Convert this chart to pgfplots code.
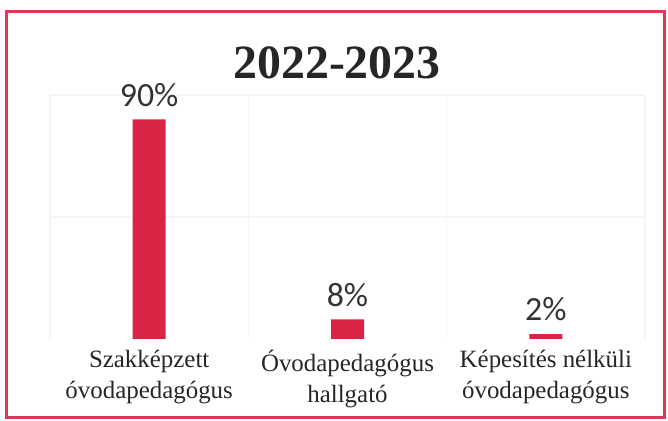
\documentclass[border=0pt]{standalone}
\usepackage{fontspec}
\setmainfont{Liberation Serif}
\newfontfamily\valfont{Carlito}
\usepackage{pgfplots}
\pgfplotsset{compat=1.18}
\definecolor{barred}{RGB}{218,36,70}
\definecolor{borderred}{RGB}{222,56,88}
\begin{document}
\begin{tikzpicture}
\begin{axis}[name=ax, scale only axis, width=297.5bp, height=122bp,
  xmin=-0.5, xmax=2.5, ymin=0, ymax=100,
  axis line style={draw=none},
  /pgf/number format/assume math mode=true,
  xtick={0,1,2},
  xticklabels={{Szakképzett\\óvodapedagógus},{Óvodapedagógus\\hallgató},{Képesítés nélküli\\óvodapedagógus}},
  major tick length=0pt, minor tick length=0pt,
  minor xtick={-0.5,0.5,1.5,2.5}, xminorgrids,
  ytick={50,100}, yticklabels={}, ymajorgrids,
  grid style={black!4, line width=0.6pt},
  minor grid style={black!4, line width=0.6pt},
  ybar, bar width=16.5bp,
  nodes near coords={\pgfmathprintnumber{\pgfplotspointmeta}\%},
  nodes near coords style={font=\valfont\fontsize{17}{20}\selectfont, text=black!80, yshift=3bp},
  xticklabel style={align=center, font=\fontsize{12.5}{15.5}\selectfont, text=black!85, yshift=-2bp},
]
\addplot[fill=barred, draw=none] coordinates {(0,90) (1,8) (2,2)};
\end{axis}
\node[font=\bfseries\fontsize{24}{28}\selectfont, text=black!85] at ([xshift=143.5bp,yshift=16bp]ax.north west) {2022-2023};
\draw[borderred, line width=1.5bp] ([xshift=-21.5bp,yshift=-39bp]ax.south west) rectangle ([xshift=9.5bp,yshift=41.5bp]ax.north east);
\pgfresetboundingbox
\path ([xshift=-25bp,yshift=-41bp]ax.south west) rectangle ([xshift=11.5bp,yshift=47.5bp]ax.north east);
\end{tikzpicture}
\end{document}
